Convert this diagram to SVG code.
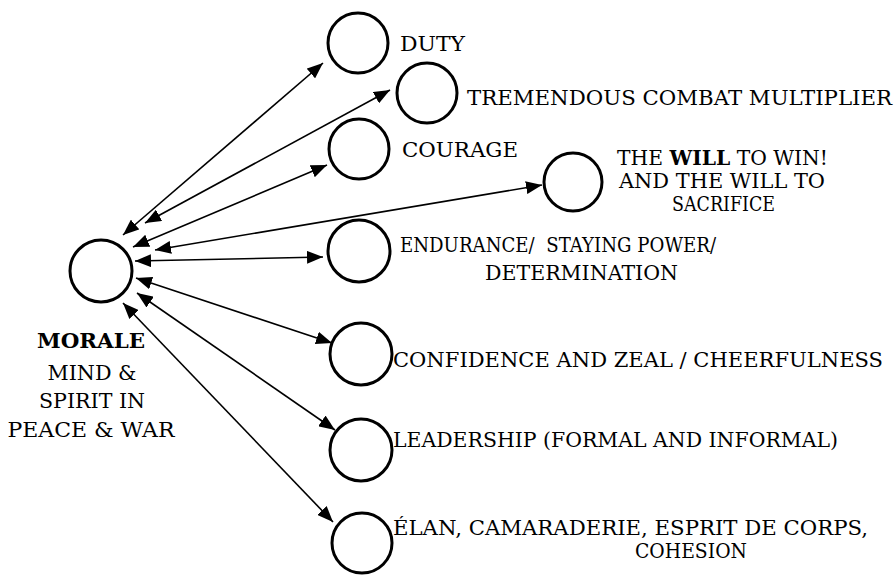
<svg xmlns="http://www.w3.org/2000/svg" width="894" height="580" viewBox="0 0 894 580">
<style>
.node circle{fill:none;stroke:#000;stroke-width:3}
text{font-family:"DejaVu Serif","Liberation Serif",serif;font-size:21px;fill:#000}
.b{font-weight:bold}
.c{text-anchor:middle}
.conn line{stroke:#000;stroke-width:1.6;marker-start:url(#ah);marker-end:url(#ah)}
</style>
<defs>
<marker id="ah" markerUnits="userSpaceOnUse" viewBox="0 0 16 13" refX="16" refY="6.5" markerWidth="16" markerHeight="13" orient="auto-start-reverse">
<path d="M0,0 L16,6.5 L0,13 Z" fill="#000"/>
</marker>
</defs>
<rect width="894" height="580" fill="#fff"/>
<g id="connectors" class="conn">
<line x1="123" y1="235" x2="323" y2="63"/>
<line x1="145" y1="223" x2="390" y2="90"/>
<line x1="133" y1="247" x2="327" y2="165"/>
<line x1="155" y1="250" x2="542" y2="185"/>
<line x1="135" y1="261" x2="323" y2="257"/>
<line x1="136" y1="278" x2="332" y2="343"/>
<line x1="137" y1="293" x2="335" y2="430"/>
<line x1="123" y1="303" x2="333" y2="522"/>
</g>
<g id="morale" class="node">
<circle cx="101" cy="271" r="31"/>
<text x="91" y="348" class="c b" textLength="108" lengthAdjust="spacingAndGlyphs">MORALE</text>
<text x="92" y="380" class="c" textLength="89" lengthAdjust="spacingAndGlyphs">MIND &amp;</text>
<text x="92" y="408" class="c" textLength="106" lengthAdjust="spacingAndGlyphs">SPIRIT IN</text>
<text x="91" y="437" class="c" textLength="167" lengthAdjust="spacingAndGlyphs">PEACE &amp; WAR</text>
</g>
<g id="duty" class="node">
<circle cx="358" cy="43" r="30"/>
<text x="400" y="51" textLength="65" lengthAdjust="spacingAndGlyphs">DUTY</text>
</g>
<g id="tremendous" class="node">
<circle cx="427" cy="93" r="30"/>
<text x="467" y="105" textLength="425" lengthAdjust="spacingAndGlyphs">TREMENDOUS COMBAT MULTIPLIER</text>
</g>
<g id="courage" class="node">
<circle cx="359" cy="149" r="30"/>
<text x="402" y="157" textLength="116" lengthAdjust="spacingAndGlyphs">COURAGE</text>
</g>
<g id="will" class="node">
<circle cx="573" cy="182" r="29"/>
<text x="617" y="165" textLength="211" lengthAdjust="spacingAndGlyphs">THE <tspan class="b">WILL</tspan> TO WIN!</text>
<text x="619" y="188" textLength="206" lengthAdjust="spacingAndGlyphs">AND THE WILL TO</text>
<text x="672" y="211" textLength="103" lengthAdjust="spacingAndGlyphs">SACRIFICE</text>
</g>
<g id="endurance" class="node">
<circle cx="359" cy="251" r="31"/>
<text x="400" y="252" textLength="316" lengthAdjust="spacingAndGlyphs">ENDURANCE/&#160; STAYING POWER/</text>
<text x="485" y="280" textLength="193" lengthAdjust="spacingAndGlyphs">DETERMINATION</text>
</g>
<g id="confidence" class="node">
<circle cx="361" cy="354" r="31"/>
<text x="393" y="367" textLength="490" lengthAdjust="spacingAndGlyphs">CONFIDENCE AND ZEAL / CHEERFULNESS</text>
</g>
<g id="leadership" class="node">
<circle cx="361" cy="450" r="31"/>
<text x="393" y="447" textLength="445" lengthAdjust="spacingAndGlyphs">LEADERSHIP (FORMAL AND INFORMAL)</text>
</g>
<g id="elan" class="node">
<circle cx="362" cy="543" r="30"/>
<text x="393" y="535" textLength="475" lengthAdjust="spacingAndGlyphs">ÉLAN, CAMARADERIE, ESPRIT DE CORPS,</text>
<text x="635" y="558" textLength="112" lengthAdjust="spacingAndGlyphs">COHESION</text>
</g>
</svg>
